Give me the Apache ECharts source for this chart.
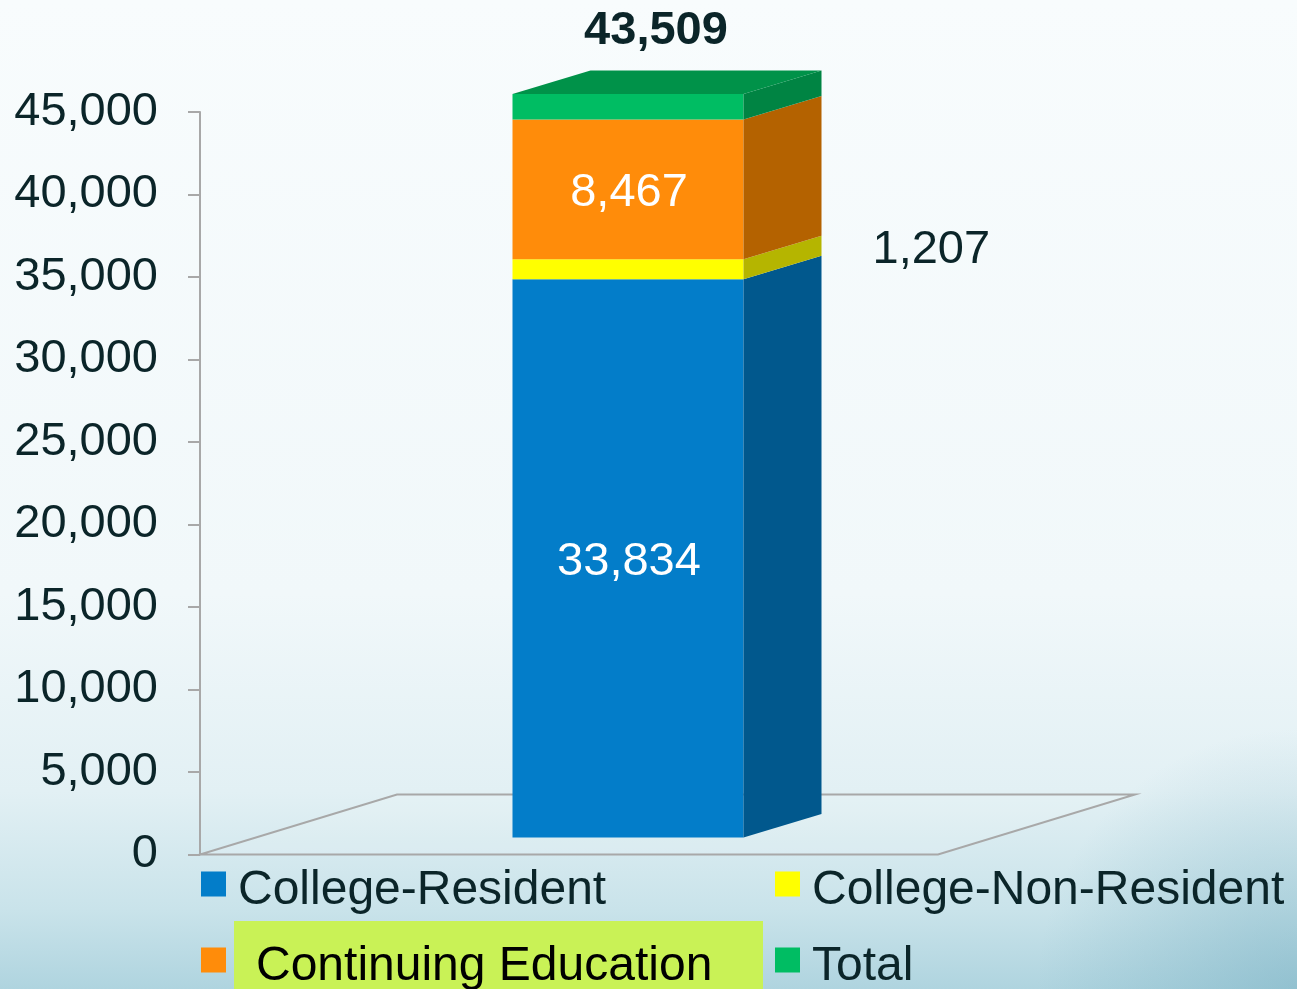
<!DOCTYPE html>
<html>
<head>
<meta charset="utf-8">
<title>Enrollment</title>
<script src="https://cdn.jsdelivr.net/npm/echarts@6/dist/echarts.min.js"></script>
<style>
  html, body { margin: 0; padding: 0; }
  #main { width: 1297px; height: 989px; }
</style>
</head>
<body>
<div id="main"></div>
<script>
  // values
  var categories = ['Enrollment'];
  var collegeResident = [33834];
  var collegeNonResident = [1207];
  var continuingEducation = [8467];
  var totalCap = [1550];      // green cap drawn on top of the stack
  var totalLabel = [43509];   // number printed above the bar
  var yMin = 0, yMax = 45000, yStep = 5000;

  var FONT = '"Liberation Sans", Arial, sans-serif';
  var TEXT = '#0b2529';

  // 3d look, in pixels
  var FLOOR_DX = 197, FLOOR_DY = -60;
  var SHIFT_DX = 59, SHIFT_DY = -17;   // bar stands a bit back on the floor
  var DEPTH_DX = 78, DEPTH_DY = -23.5;
  var BAR_W = 231;
  var LABEL_DY = 4;                    // text sits a little low in the original

  // square legend marker sitting in the upper part of a taller box,
  // so the legend text ends up a bit lower than the marker centre
  var LEGEND_ICON = 'path://M0 0H25V25H0Z M0 39L0.01 39';

  var stackOrder = [collegeResident, collegeNonResident, continuingEducation, totalCap];

  function fmt(v) { return Number(v).toLocaleString('en-US'); }

  function toPairs(arr) {
    return arr.map(function (v, i) { return [i, v]; });
  }

  // one stacked segment: front face, side face, maybe top face, plus its label
  function makeRender(k, col, labelFn) {
    return function (params, api) {
      var i = api.value(0);
      var base = 0;
      for (var j = 0; j < k; j++) base += stackOrder[j][i];
      var val = api.value(1);
      var p0 = api.coord([i, base]);
      var p1 = api.coord([i, base + val]);
      var xl = p0[0] - BAR_W / 2 + SHIFT_DX, xr = xl + BAR_W;
      var yb = p0[1] + SHIFT_DY, yt = p1[1] + SHIFT_DY;

      var kids = [
        { type: 'rect', shape: { x: xl, y: yt, width: BAR_W, height: yb - yt }, style: { fill: col.front } },
        { type: 'polygon', shape: { points: [[xr, yb], [xr + DEPTH_DX, yb + DEPTH_DY], [xr + DEPTH_DX, yt + DEPTH_DY], [xr, yt]] }, style: { fill: col.side } }
      ];
      if (col.top) {
        kids.push({ type: 'polygon', shape: { points: [[xl, yt], [xl + DEPTH_DX, yt + DEPTH_DY], [xr + DEPTH_DX, yt + DEPTH_DY], [xr, yt]] }, style: { fill: col.top } });
      }
      var lab = labelFn(i, val, xl, xr, yt, yb);
      if (lab) kids.push(lab);
      return { type: 'group', children: kids };
    };
  }

  function floorRender(params, api) {
    var c = params.coordSys;
    var x0 = c.x, x1 = c.x + c.width, y0 = c.y + c.height;
    return {
      type: 'polygon',
      shape: { points: [[x0, y0], [x1, y0], [x1 + FLOOR_DX, y0 + FLOOR_DY], [x0 + FLOOR_DX, y0 + FLOOR_DY]] },
      style: { fill: 'rgba(255,255,255,0.12)', stroke: '#a8a8a8', lineWidth: 2 }
    };
  }

  // one legend per entry, laid out as a 2 x 2 block
  function legendAt(left, top, item) {
    return {
      left: left, top: top, orient: 'horizontal', padding: 0,
      itemWidth: 25, itemHeight: 39, icon: LEGEND_ICON, selectedMode: false,
      itemStyle: { borderWidth: 0 },
      textStyle: { fontSize: 48, color: TEXT, padding: [0, 0, 0, 7], fontFamily: FONT },
      data: [item]
    };
  }

  var myChart = echarts.init(document.getElementById('main'));

  myChart.setOption({
    animation: false,
    backgroundColor: new echarts.graphic.LinearGradient(0, 0, 0, 1, [
      { offset: 0, color: '#f8fcfd' },
      { offset: 0.6, color: '#f1f8fa' },
      { offset: 0.8, color: '#e2f0f4' },
      { offset: 0.92, color: '#c9e3ea' },
      { offset: 1, color: '#afd4df' }
    ]),
    textStyle: { fontFamily: FONT },
    graphic: [
      // darker sweep in the bottom right corner
      {
        type: 'rect', z: -1, silent: true,
        shape: { x: 700, y: 700, width: 597, height: 289 },
        style: {
          fill: new echarts.graphic.RadialGradient(1, 1, 0.9, [
            { offset: 0, color: 'rgba(110,170,190,0.45)' },
            { offset: 1, color: 'rgba(110,170,190,0)' }
          ])
        }
      },
      // highlight behind "Continuing Education"
      { type: 'rect', z: 0, shape: { x: 234, y: 921, width: 529, height: 80 }, style: { fill: '#c9f256' } }
    ],
    legend: [
      legendAt(201, 867, 'College-Resident'),
      legendAt(201, 943, { name: 'Continuing Education', textStyle: { color: '#000', padding: [0, 0, 0, 25] } }),
      legendAt(775, 867, 'College-Non-Resident'),
      legendAt(775, 943, 'Total')
    ],
    grid: { left: 200, right: 359, top: 112, bottom: 134.5 },
    xAxis: {
      type: 'category',
      data: categories,
      axisLine: { show: false },
      axisTick: { show: false },
      axisLabel: { show: false },
      splitLine: { show: false }
    },
    yAxis: {
      type: 'value',
      min: yMin, max: yMax, interval: yStep,
      axisLine: { show: true, lineStyle: { color: '#a8a8a8', width: 2 } },
      axisTick: { show: true, length: 12, lineStyle: { color: '#a8a8a8', width: 2 } },
      splitLine: { show: false },
      axisLabel: {
        margin: 42, fontSize: 47, color: TEXT, fontFamily: FONT,
        formatter: function (v) { return fmt(v); }
      }
    },
    series: [
      { name: 'floor', type: 'custom', z: 1, silent: true, renderItem: floorRender, data: [[0, 0]] },
      {
        name: 'College-Resident', type: 'custom', z: 3, silent: true,
        itemStyle: { color: '#037dc9' },
        encode: { x: 0, y: 1 },
        data: toPairs(collegeResident),
        renderItem: makeRender(0, { front: '#037dc9', side: '#01588d' }, function (i, v, xl, xr, yt, yb) {
          return { type: 'text', x: (xl + xr) / 2 + 1, y: (yt + yb) / 2 + LABEL_DY, style: { text: fmt(v), fill: '#fff', fontSize: 47, fontFamily: FONT, align: 'center', verticalAlign: 'middle' } };
        })
      },
      {
        name: 'College-Non-Resident', type: 'custom', z: 3, silent: true,
        itemStyle: { color: '#ffff00' },
        encode: { x: 0, y: 1 },
        data: toPairs(collegeNonResident),
        renderItem: makeRender(1, { front: '#ffff00', side: '#b5b500' }, function (i, v, xl, xr, yt, yb) {
          return { type: 'text', x: xr + DEPTH_DX + 51, y: (yt + yb) / 2 + DEPTH_DY + LABEL_DY, style: { text: fmt(v), fill: TEXT, fontSize: 47, fontFamily: FONT, align: 'left', verticalAlign: 'middle' } };
        })
      },
      {
        name: 'Continuing Education', type: 'custom', z: 3, silent: true,
        itemStyle: { color: '#ff8c0a' },
        encode: { x: 0, y: 1 },
        data: toPairs(continuingEducation),
        renderItem: makeRender(2, { front: '#ff8c0a', side: '#b46200' }, function (i, v, xl, xr, yt, yb) {
          return { type: 'text', x: (xl + xr) / 2 + 1, y: (yt + yb) / 2 + LABEL_DY, style: { text: fmt(v), fill: '#fff', fontSize: 47, fontFamily: FONT, align: 'center', verticalAlign: 'middle' } };
        })
      },
      {
        name: 'Total', type: 'custom', z: 3, silent: true,
        itemStyle: { color: '#00bd63' },
        encode: { x: 0, y: 1 },
        data: toPairs(totalCap),
        renderItem: makeRender(3, { front: '#00bd63', side: '#008443', top: '#009249' }, function (i, v, xl, xr, yt, yb) {
          return { type: 'text', x: (xl + xr) / 2 + 28, y: yt + DEPTH_DY - 39, style: { text: fmt(totalLabel[i]), fill: TEXT, fontSize: 47, fontWeight: 'bold', fontFamily: FONT, align: 'center', verticalAlign: 'middle' } };
        })
      }
    ]
  });
</script>
</body>
</html>
